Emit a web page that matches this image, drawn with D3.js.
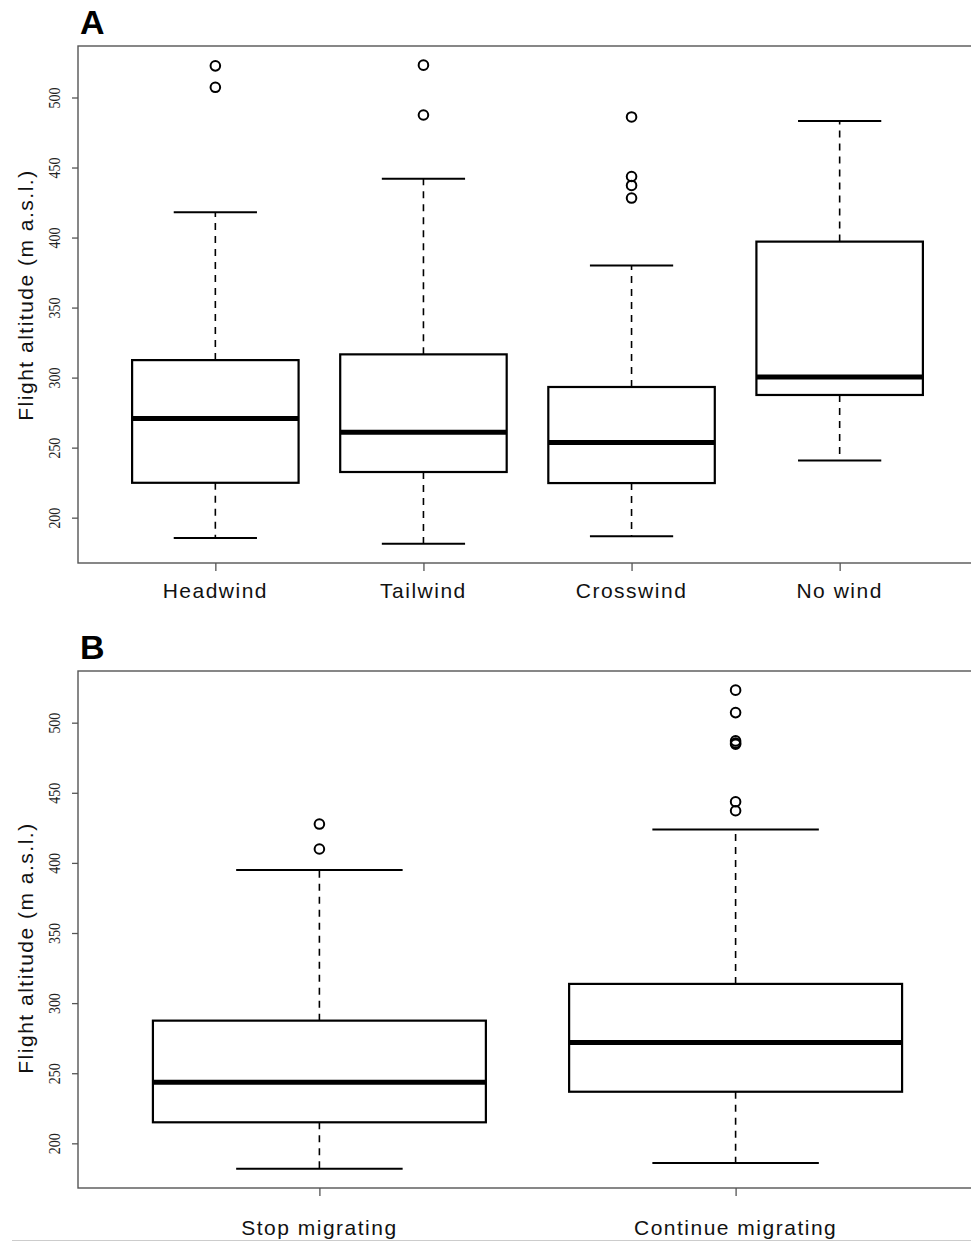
<!DOCTYPE html>
<html>
<head>
<meta charset="utf-8">
<script src="https://cdn.jsdelivr.net/npm/d3@7"></script>
<style>
  body { margin: 0; background: #fff; }
  svg { display: block; }
  .lab { font-family: "Liberation Sans", Arial, sans-serif; font-size: 21px; letter-spacing: 1.5px; fill: #111; }
  .tick text { font-family: "Liberation Serif", "Times New Roman", serif; font-size: 17px; fill: #222; }
</style>
</head>
<body>
<script>
var W = 971, H = 1243;

// DATA
const yTicks = [200, 250, 300, 350, 400, 450, 500];

// panel A: wind condition
const windGroups  = ["Headwind", "Tailwind", "Crosswind", "No wind"];
const windLower   = [185.5, 181.3, 186.8, 240.9];
const windQ1      = [224.9, 232.6, 224.7, 287.6];
const windMedian  = [270.8, 261.0, 253.7, 300.4];
const windQ3      = [312.5, 316.6, 293.3, 397.1];
const windUpper   = [418.0, 442.0, 380.0, 483.3];
const windOut     = [[522.6, 507.3], [523.1, 487.5], [486.1, 443.6, 437.2, 428.2], []];

// panel B: decision
const migGroups   = ["Stop migrating", "Continue migrating"];
const migLower    = [181.8, 186.0];
const migQ1       = [215.0, 236.8];
const migMedian   = [243.6, 271.9];
const migQ3       = [287.5, 313.7];
const migUpper    = [395.0, 423.9];
const migOut      = [[427.7, 409.9], [523.2, 507.2, 487.0, 485.5, 484.6, 443.6, 437.2]];

var svg = d3.select("body").append("svg")
    .attr("width", W)
    .attr("height", H);

function panel(opt) {
  var g = svg.append("g");
  var n = opt.groups.length;

  // R style 4% extension of the axis ranges
  var x = d3.scaleLinear()
      .domain([0.5 - 0.04 * n, n + 0.5 + 0.04 * n])
      .range([78, 977]);

  var all = d3.merge([opt.lower, opt.upper, d3.merge(opt.out)]);
  var lo = d3.min(all), hi = d3.max(all), ext = (hi - lo) * 0.04;
  var y = d3.scaleLinear()
      .domain([lo - ext, hi + ext])
      .range([opt.bottom, opt.top]);

  var bw = (x(2) - x(1)) * 0.8;   // box width
  var cw = bw / 2;                 // staple width

  // frame
  g.append("rect")
      .attr("x", x.range()[0]).attr("y", opt.top)
      .attr("width", x.range()[1] - x.range()[0])
      .attr("height", opt.bottom - opt.top)
      .attr("fill", "none")
      .attr("stroke", "#555")
      .attr("stroke-width", 1.4);

  // y axis
  var ya = g.append("g")
      .attr("transform", "translate(" + x.range()[0] + ",0)")
      .call(d3.axisLeft(y).tickValues(yTicks).tickSize(6).tickSizeOuter(0).tickPadding(0));
  ya.select(".domain").remove();
  ya.selectAll(".tick line").attr("stroke", "#555").attr("stroke-width", 1.3);
  ya.selectAll(".tick text")
      .attr("x", null).attr("dy", null)
      .attr("text-anchor", "middle")
      .attr("transform", "translate(-18,0) rotate(-90) scale(0.82,1)");

  // x axis
  var idx = d3.range(1, n + 1);
  var xa = g.append("g")
      .attr("transform", "translate(0," + opt.bottom + ")")
      .call(d3.axisBottom(x).tickValues(idx).tickSize(8).tickSizeOuter(0).tickFormat(""));
  xa.select(".domain").remove();
  xa.selectAll(".tick line").attr("stroke", "#555").attr("stroke-width", 1.3);

  g.selectAll("text.xlab")
      .data(opt.groups)
      .enter().append("text")
          .attr("class", "lab xlab")
          .attr("x", function(d, i) { return x(i + 1); })
          .attr("y", opt.bottom + opt.labGap)
          .attr("text-anchor", "middle")
          .text(function(d) { return d; });

  // y title
  g.append("text")
      .attr("class", "lab")
      .attr("transform", "translate(33," + opt.titleY + ") rotate(-90)")
      .attr("text-anchor", "middle")
      .text("Flight altitude (m a.s.l.)");

  // panel letter
  g.append("text")
      .attr("x", 80).attr("y", opt.top - 12)
      .style("font-family", "Liberation Sans, Arial, sans-serif")
      .style("font-weight", "bold")
      .style("font-size", "34px")
      .attr("fill", "#000")
      .text(opt.letter);

  var boxes = g.selectAll("g.box")
      .data(opt.groups)
      .enter().append("g")
          .attr("class", "box");

  // whiskers
  boxes.append("line")
      .attr("x1", function(d, i) { return x(i + 1); })
      .attr("x2", function(d, i) { return x(i + 1); })
      .attr("y1", function(d, i) { return y(opt.q3[i]); })
      .attr("y2", function(d, i) { return y(opt.upper[i]); })
      .attr("stroke", "#000").attr("stroke-width", 1.6)
      .attr("stroke-dasharray", "7,6");
  boxes.append("line")
      .attr("x1", function(d, i) { return x(i + 1); })
      .attr("x2", function(d, i) { return x(i + 1); })
      .attr("y1", function(d, i) { return y(opt.q1[i]); })
      .attr("y2", function(d, i) { return y(opt.lower[i]); })
      .attr("stroke", "#000").attr("stroke-width", 1.6)
      .attr("stroke-dasharray", "7,6");

  // staples
  [opt.upper, opt.lower].forEach(function(arr) {
    boxes.append("line")
        .attr("x1", function(d, i) { return x(i + 1) - cw / 2; })
        .attr("x2", function(d, i) { return x(i + 1) + cw / 2; })
        .attr("y1", function(d, i) { return y(arr[i]); })
        .attr("y2", function(d, i) { return y(arr[i]); })
        .attr("stroke", "#000").attr("stroke-width", 2);
  });

  // box
  boxes.append("rect")
      .attr("x", function(d, i) { return x(i + 1) - bw / 2; })
      .attr("y", function(d, i) { return y(opt.q3[i]); })
      .attr("width", bw)
      .attr("height", function(d, i) { return y(opt.q1[i]) - y(opt.q3[i]); })
      .attr("fill", "none")
      .attr("stroke", "#000").attr("stroke-width", 2.2);

  // median
  boxes.append("line")
      .attr("x1", function(d, i) { return x(i + 1) - bw / 2; })
      .attr("x2", function(d, i) { return x(i + 1) + bw / 2; })
      .attr("y1", function(d, i) { return y(opt.median[i]); })
      .attr("y2", function(d, i) { return y(opt.median[i]); })
      .attr("stroke", "#000").attr("stroke-width", 5);

  // outliers
  boxes.each(function(d, i) {
    d3.select(this).selectAll("circle")
        .data(opt.out[i])
        .enter().append("circle")
            .attr("cx", x(i + 1))
            .attr("cy", function(v) { return y(v); })
            .attr("r", 4.8)
            .attr("fill", "none")
            .attr("stroke", "#000")
            .attr("stroke-width", 2);
  });
}

panel({
  letter: "A", top: 46, bottom: 563, titleY: 295, labGap: 35,
  groups: windGroups, lower: windLower, q1: windQ1, median: windMedian,
  q3: windQ3, upper: windUpper, out: windOut
});

panel({
  letter: "B", top: 671, bottom: 1188, titleY: 948, labGap: 47,
  groups: migGroups, lower: migLower, q1: migQ1, median: migMedian,
  q3: migQ3, upper: migUpper, out: migOut
});

// thin rule at the very bottom of the figure
svg.append("line")
    .attr("x1", 12).attr("x2", W)
    .attr("y1", 1240.5).attr("y2", 1240.5)
    .attr("stroke", "#ccc").attr("stroke-width", 1);
</script>
</body>
</html>
